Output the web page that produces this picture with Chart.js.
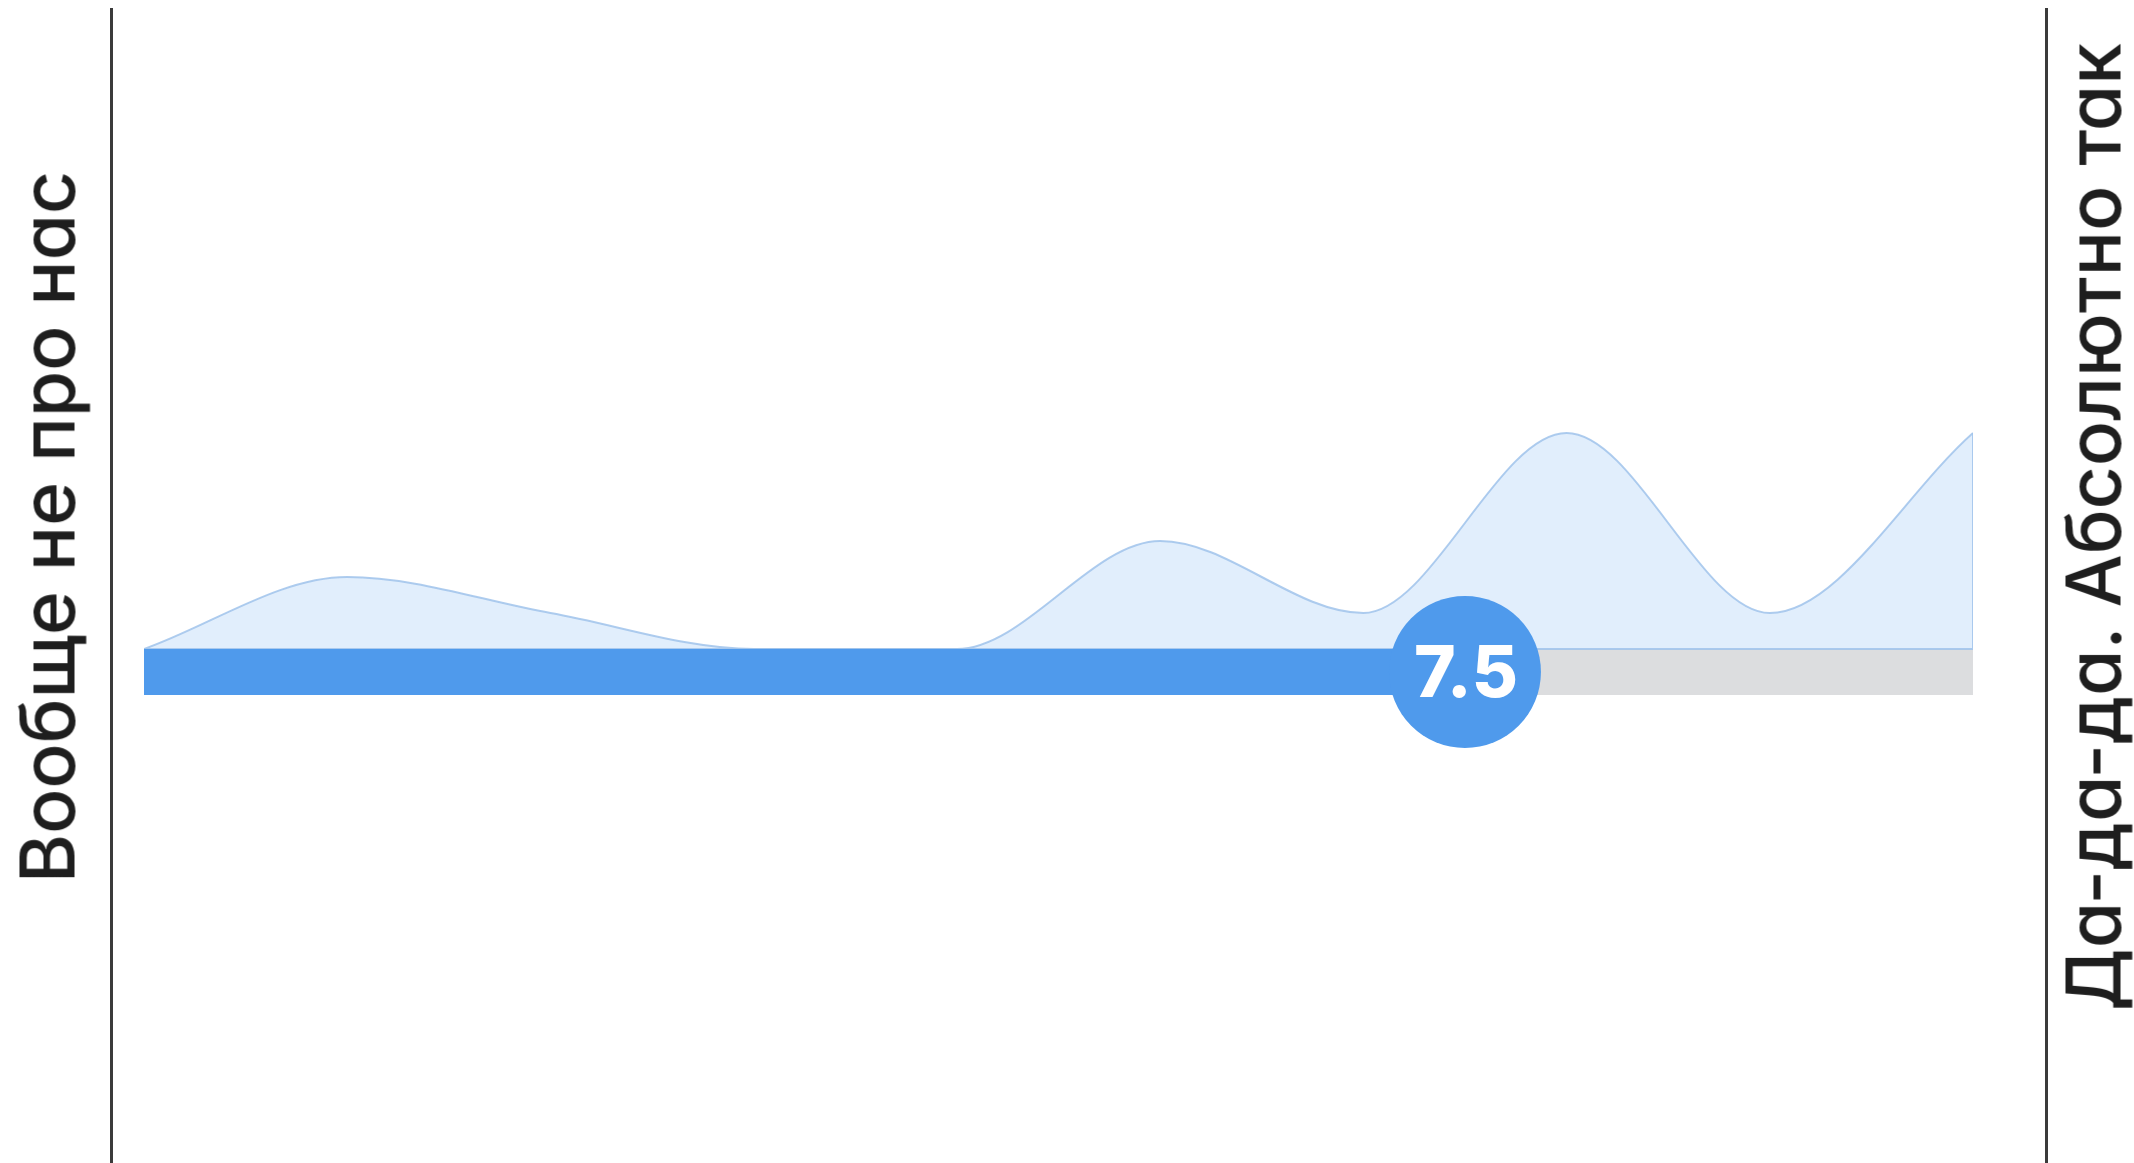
<!DOCTYPE html>
<html>
<head>
<meta charset="utf-8">
<script src="https://cdn.jsdelivr.net/npm/chart.js@4.4.1/dist/chart.umd.min.js"></script>
<style>
html,body{margin:0;padding:0;background:#fff;width:2134px;height:1163px;overflow:hidden;}
#wrap{position:relative;width:2134px;height:1163px;}
#chart{position:absolute;left:0;top:0;}
.vline{position:absolute;top:8px;height:1155px;width:3px;background:#3b3b3b;}
.lbl{position:absolute;font-family:Inter,"Noto Sans",sans-serif;font-weight:500;font-size:75px;color:#1e1e1e;white-space:nowrap;line-height:1;font-feature-settings:"cv11" 1;transform:translate(-50%,-50%) rotate(-90deg);}
</style>
</head>
<body>
<div id="wrap">
  <canvas id="chart" width="2134" height="1163"></canvas>
  <div class="vline" style="left:110px"></div>
  <div class="vline" style="left:2045px"></div>
  <div class="lbl" id="lblMin" style="left:47px;top:527px"></div>
  <div class="lbl" id="lblMax" style="left:2093px;top:527px"></div>
</div>
<script>
// ---- data ----
const scaleValues = [1, 2, 3, 4, 5, 6, 7, 8, 9, 10];
const voteCounts  = [0, 2, 1, 0, 0, 3, 1, 6, 1, 6];
const averageScore = [7.5];
const axisLabels = ['Вообще не про нас', 'Да-да-да. Абсолютно так'];

document.getElementById('lblMin').textContent = axisLabels[0];
document.getElementById('lblMax').textContent = axisLabels[1];

const TRACK_Y = -0.64;
const BLUE = '#4f9aec';
const OUTLINE = 'rgba(160,195,235,0.85)';

const avg = averageScore[0];
const first = scaleValues[0], last = scaleValues[scaleValues.length - 1];
const areaData = scaleValues.map((x, i) => ({x: x, y: voteCounts[i]}));
const outlineData = [{x: last, y: voteCounts[voteCounts.length - 1]}, {x: last, y: 0}, {x: first, y: 0}];
const trackData = [{x: first, y: TRACK_Y}, {x: last, y: TRACK_Y}];
const progressData = [{x: first, y: TRACK_Y}, {x: avg, y: TRACK_Y}];
const markerData = [{x: avg, y: TRACK_Y}];

const valueLabel = {
  id: 'valueLabel',
  afterDatasetsDraw(chart) {
    const meta = chart.getDatasetMeta(4);
    const pt = meta.data[0];
    if (!pt) return;
    const ctx = chart.ctx;
    ctx.save();
    ctx.fillStyle = '#ffffff';
    ctx.font = '800 71px Inter, "Noto Sans", sans-serif';
    ctx.textAlign = 'center';
    ctx.textBaseline = 'alphabetic';
    ctx.fillText(avg.toFixed(1), pt.x + 1, pt.y + 25);
    ctx.restore();
  }
};

new Chart(document.getElementById('chart'), {
  type: 'line',
  data: {
    datasets: [
      {
        label: 'votes',
        data: areaData,
        fill: 'origin',
        backgroundColor: 'rgba(79,154,236,0.17)',
        borderColor: OUTLINE,
        borderWidth: 2,
        cubicInterpolationMode: 'monotone',
        pointRadius: 0,
        order: 5
      },
      {
        label: 'track',
        data: trackData,
        borderColor: '#dcdddf',
        borderWidth: 46,
        borderCapStyle: 'butt',
        pointRadius: 0,
        fill: false,
        order: 4
      },
      {
        label: 'outline',
        data: outlineData,
        borderColor: OUTLINE,
        borderWidth: 2,
        pointRadius: 0,
        tension: 0,
        fill: false,
        order: 3
      },
      {
        label: 'progress',
        data: progressData,
        borderColor: BLUE,
        borderWidth: 46,
        borderCapStyle: 'butt',
        pointRadius: 0,
        fill: false,
        order: 2
      },
      {
        label: 'marker',
        data: markerData,
        showLine: false,
        pointRadius: 76,
        pointBackgroundColor: BLUE,
        pointBorderWidth: 0,
        fill: false,
        order: 1
      }
    ]
  },
  options: {
    responsive: false,
    animation: false,
    devicePixelRatio: 1,
    layout: {padding: {left: 144, right: 161, top: 217, bottom: 370}},
    plugins: {legend: {display: false}, tooltip: {enabled: false}},
    events: [],
    scales: {
      x: {type: 'linear', min: 1, max: 10, display: false},
      y: {type: 'linear', min: -4, max: 12, display: false}
    }
  },
  plugins: [valueLabel]
});
</script>
</body>
</html>
